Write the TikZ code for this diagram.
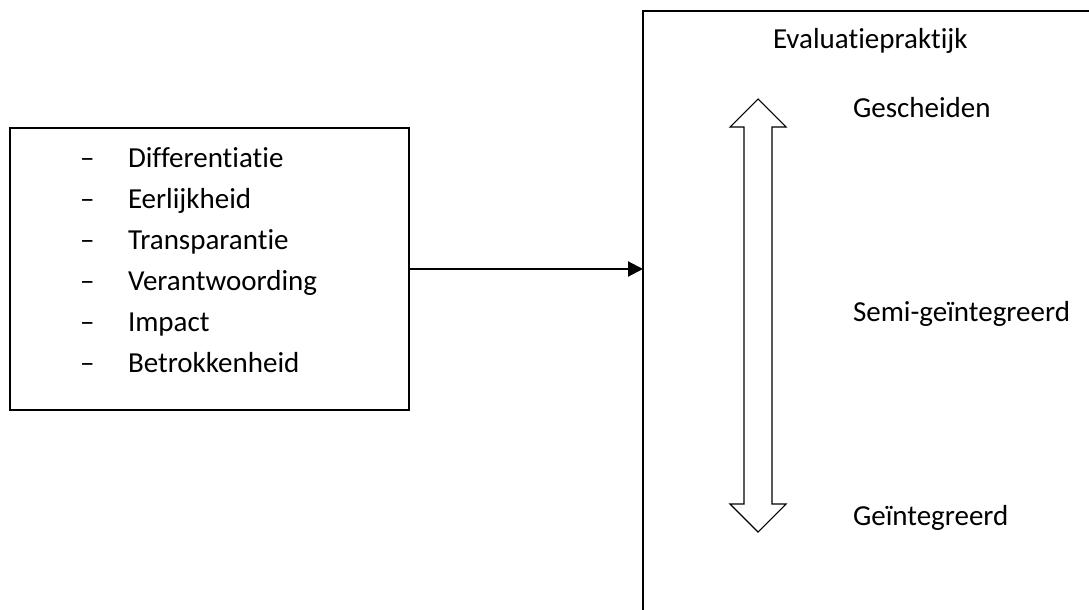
\documentclass[tikz,border=0pt]{standalone}
\usepackage{fontspec}
\setmainfont{Carlito}[Ligatures=NoCommon]
\usetikzlibrary{arrows.meta,fit}
\begin{document}
\begin{tikzpicture}[x=0.75pt,y=-0.75pt,
  every node/.style={inner sep=0pt, outer sep=0pt},
  lbl/.style={anchor=base west, font=\fontsize{21.75}{26}\selectfont},
  frame/.style={draw, line width=1.7pt},
  link/.style={line width=1.6pt, -{Triangle[length=11.25pt,width=11.25pt]}},
  hollow/.style={draw, line width=0.8pt, fill=white, line join=miter}]
\useasboundingbox (0,0) rectangle (1089,610);
\clip (0,0) rectangle (1089,610);

% criteria box
\node[frame, fit={(10,128) (409,410)}] (leftbox) {};
\foreach \t [count=\i from 0] in {Differentiatie,Eerlijkheid,Transparantie,Verantwoording,Impact,Betrokkenheid}{
  \node[lbl] (dash\i) at (80,167+41*\i) {–};
  \node[lbl] (item\i) at (128,167+41*\i) {\t};
}

% practice box (runs past the page edge)
\node[frame, fit={(643,11) (1300,700)}] (rightbox) {};
\node[lbl] (title) at (773,49) {Evaluatiepraktijk};

% influence arrow
\draw[link] (leftbox.east) -- (leftbox.east -| rightbox.west);

% hollow double arrow (scale)
\draw[hollow] (758,99) -- (786,127) -- (772,127) -- (772,504) -- (786,504)
  -- (758,532) -- (730,504) -- (744,504) -- (744,127) -- (730,127) -- cycle;

\node[lbl] (top) at (853,117.5) {Gescheiden};
\node[lbl] (mid) at (853,321) {Semi-geïntegreerd};
\node[lbl] (bot) at (853,525) {Geïntegreerd};
\end{tikzpicture}
\end{document}
